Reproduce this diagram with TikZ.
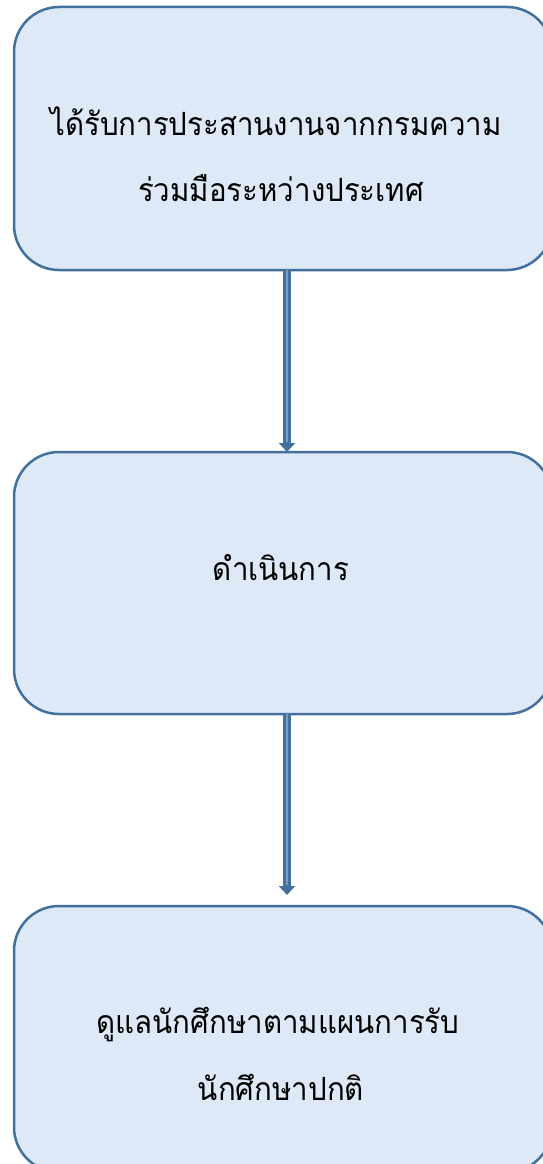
\documentclass[tikz,border=0pt]{standalone}
\usepackage{fontspec}
\newfontfamily\thaifont[Script=Thai,FakeStretch=0.92]{Loma}
\usetikzlibrary{arrows.meta}
\definecolor{boxline}{RGB}{65,113,156}
\definecolor{boxfill}{RGB}{221,233,246}
\definecolor{arrowin}{RGB}{120,155,200}
\tikzset{
  flowbox/.style={draw=boxline, fill=boxfill, line width=2.5pt, rounded corners=45pt,
    minimum width=538pt, inner sep=0pt, outer sep=0pt},
  thaitext/.style={anchor=base, font=\thaifont\fontsize{32}{38}\selectfont, inner sep=0pt},
  fatarrow/.style={draw=boxline, line width=8pt, -{Triangle[width=16pt,length=9pt]}},
  fatinner/.style={draw=arrowin, line width=2.5pt}
}
\begin{document}
\begin{tikzpicture}[x=1pt,y=-1pt]
\useasboundingbox (0,0) rectangle (542,1164);
\node[flowbox, minimum height=263pt] (b1) at (283,138.5) {};
\node[flowbox, minimum height=262pt] (b2) at (283,583) {};
\node[flowbox, minimum height=266pt] (b3) at (283,1039) {};
\node[thaitext] (t1a) at (276,135) {ได้รับการประสานงานจากกรมความ};
\node[thaitext] (t1b) at (281,201) {ร่วมมือระหว่างประเทศ};
\node[thaitext] (t2) at (281,580) {ดำเนินการ};
\node[thaitext] (t3a) at (278,1033) {ดูแลนักศึกษาตามแผนการรับ};
\node[thaitext] (t3b) at (281,1100) {นักศึกษาปกติ};
\coordinate (a1s) at ([xshift=4pt]b1.south);
\coordinate (a1e) at ([xshift=4pt]b2.north);
\coordinate (a2s) at ([xshift=4pt]b2.south);
\coordinate (a2e) at ([xshift=4pt,yshift=11pt]b3.north);
\draw[fatarrow] (a1s) -- (a1e);
\draw[fatinner] (a1s) -- ([yshift=10pt]a1e);
\draw[fatarrow] (a2s) -- (a2e);
\draw[fatinner] (a2s) -- ([yshift=10pt]a2e);
\end{tikzpicture}
\end{document}
